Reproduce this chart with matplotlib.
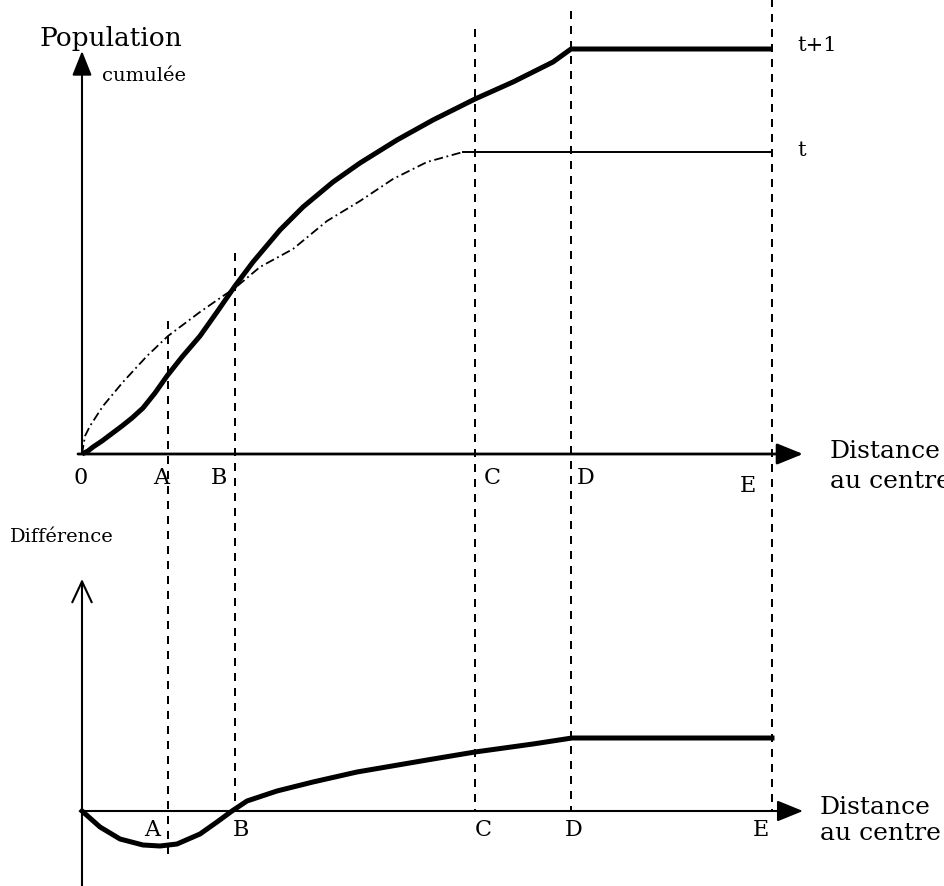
import numpy as np
import matplotlib
matplotlib.use("Agg")
import matplotlib.pyplot as plt

# Positions des points remarquables sur l'axe des distances
labels_pts = ["A", "B", "C", "D", "E"]
x_pts = [0.86, 1.53, 3.93, 4.89, 6.90]

# Population cumulée a t+1 (trait épais)
x_t1 = [0, 0.06, 0.11, 0.20, 0.28, 0.40, 0.50, 0.61, 0.73, 0.85, 1.00, 1.18,
        1.35, 1.53, 1.71, 1.98, 2.21, 2.51, 2.78, 3.15, 3.51, 3.93, 4.31,
        4.71, 4.89, 6.90]
y_t1 = [0, 0.03, 0.07, 0.13, 0.19, 0.28, 0.36, 0.46, 0.61, 0.78, 0.97, 1.18,
        1.42, 1.68, 1.92, 2.24, 2.47, 2.72, 2.91, 3.14, 3.34, 3.55, 3.72,
        3.92, 4.05, 4.05]

# Population cumulée a t (trait mixte puis palier)
x_t = [0, 0.03, 0.08, 0.21, 0.41, 0.65, 0.86, 1.18, 1.41, 1.53, 1.78, 2.11,
       2.45, 2.78, 3.11, 3.45, 3.81]
y_t = [0, 0.18, 0.28, 0.48, 0.72, 0.98, 1.18, 1.42, 1.58, 1.66, 1.87, 2.05,
       2.33, 2.53, 2.75, 2.92, 3.02]
x_t_palier = [3.81, 6.90]
y_t_palier = [3.02, 3.02]

# Différence (t+1) - t
x_diff = [0, 0.18, 0.38, 0.61, 0.78, 0.95, 1.18, 1.35, 1.50, 1.65, 1.95, 2.31,
          2.75, 3.51, 3.93, 4.51, 4.90, 6.90]
y_diff = [0, -0.16, -0.28, -0.34, -0.35, -0.33, -0.23, -0.11, 0, 0.10, 0.20,
          0.29, 0.39, 0.52, 0.59, 0.67, 0.73, 0.73]

# haut des pointillés (graphique du haut) et bas (graphique du bas)
dash_top = [1.33, 2.01, 4.25, 4.43, 4.55]
dash_bot = [-0.45, 0, 0, 0, 0]

BASE2 = -3.57   # ligne de base du graphique du bas
X_END = 7.21    # pointe des flèches horizontales
FONT = "DejaVu Serif"

fig = plt.figure(figsize=(9.44, 8.87), dpi=100)
ax = fig.add_axes([0, 0, 1, 1])
ax.set_xlim(-0.82, 8.62)
ax.set_ylim(-4.32, 4.55)
ax.axis("off")

# lignes verticales en tirets
for xp, yt, yb in zip(x_pts, dash_top, dash_bot):
    ax.plot([xp, xp], [yt, BASE2 + yb], color="k", lw=1.44,
            dashes=(4, 3.5), zorder=1)

# axes avec flèches
arrow_x = dict(arrowstyle="-|>,head_length=1.6,head_width=0.65",
               color="k", lw=2.0, shrinkA=0, shrinkB=0)
ax.annotate("", xy=(X_END, 0), xytext=(-0.04, 0), arrowprops=arrow_x)
ax.annotate("", xy=(0, 4.03), xytext=(0, 0),
            arrowprops=dict(arrowstyle="-|>,head_length=1.5,head_width=0.6",
                            color="k", lw=1.5, shrinkA=0, shrinkB=0))
arrow_x2 = dict(arrow_x, lw=1.5)
ax.annotate("", xy=(X_END, BASE2), xytext=(0, BASE2), arrowprops=arrow_x2)
ax.annotate("", xy=(0, BASE2 + 2.32), xytext=(0, -4.32),
            arrowprops=dict(arrowstyle="->,head_length=1.5,head_width=0.7",
                            color="k", lw=1.5, shrinkA=0, shrinkB=0))

# courbes
ax.plot(x_t, y_t, color="k", lw=1.3, dashes=(5, 2, 1, 2), zorder=3)
ax.plot(x_t_palier, y_t_palier, color="k", lw=1.4, zorder=3)
ax.plot(x_t1, y_t1, color="k", lw=3.6, solid_capstyle="butt", zorder=4)
ax.plot(x_diff, np.array(y_diff) + BASE2, color="k", lw=3.6, zorder=4)

# textes
ax.text(-0.42, 4.17, "Population", fontsize=19, family=FONT,
        ha="left", va="center")
ax.text(0.20, 3.79, "cumulée", fontsize=14, family=FONT,
        ha="left", va="center")
ax.text(7.15, 4.10, "t+1", fontsize=15, family=FONT, ha="left", va="center")
ax.text(7.15, 3.05, "t", fontsize=15, family=FONT, ha="left", va="center")
ax.text(-0.72, BASE2 + 2.75, "Différence", fontsize=14, family=FONT,
        ha="left", va="center")

ax.text(-0.01, -0.23, "0", fontsize=16, family=FONT, ha="center", va="center")
top_off = [-0.07, -0.16, 0.17, 0.15, -0.24]
for lab, xp, dx in zip(labels_pts, x_pts, top_off):
    dy = -0.31 if lab == "E" else -0.23
    ax.text(xp + dx, dy, lab, fontsize=16, family=FONT,
            ha="center", va="center")
bot_off = [-0.16, 0.06, 0.08, 0.03, -0.11]
for lab, xp, dx in zip(labels_pts, x_pts, bot_off):
    ax.text(xp + dx, BASE2 - 0.18, lab, fontsize=16, family=FONT,
            ha="center", va="center")

for yb, x0 in [(0, 7.48), (BASE2, 7.38)]:
    ax.text(x0, yb + 0.04, "Distance", fontsize=18, family=FONT,
            ha="left", va="center")
    ax.text(x0, yb - 0.27 if yb == 0 else yb - 0.22, "au centre", fontsize=18,
            family=FONT, ha="left", va="center")

fig.savefig("out.png", dpi=100)
